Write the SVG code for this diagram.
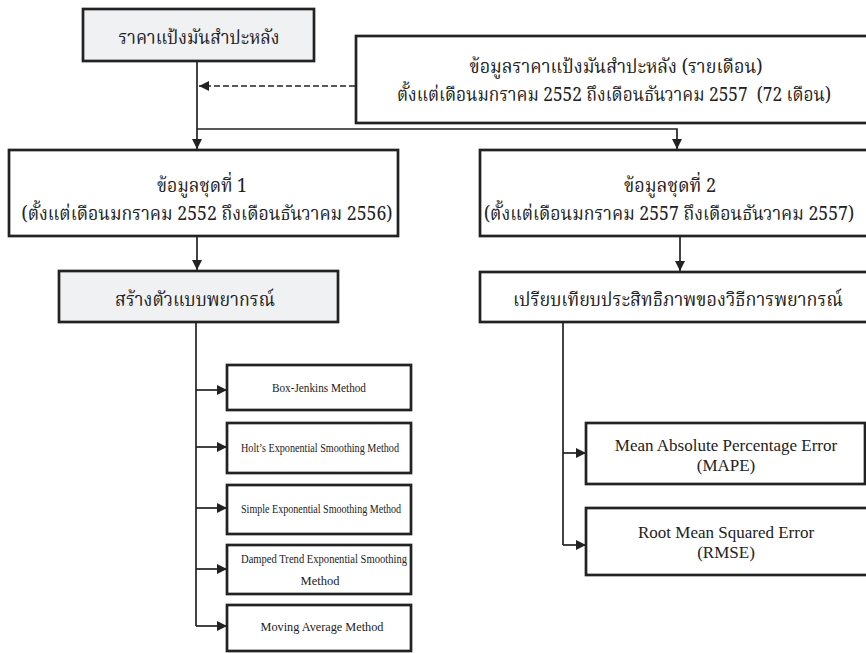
<svg xmlns="http://www.w3.org/2000/svg" width="866" height="653" viewBox="0 0 866 653">
<style>
.box{fill:#ffffff;stroke:#222222;stroke-width:2.7}
.grey{fill:#f0f1f3}
.th{font-family:"Noto Serif Thai","Noto Sans Thai","Loma","Garuda","Norasi","Liberation Serif",serif;font-size:19px;fill:#222222;text-anchor:middle}
.en{font-family:"Liberation Serif","Times New Roman",serif;font-size:12.5px;fill:#222222;text-anchor:middle}
.en2{font-family:"Liberation Serif","Times New Roman",serif;font-size:17px;fill:#222222;text-anchor:middle}
.ln{fill:none;stroke:#222222;stroke-width:1.7}
</style>
<defs>
<marker id="arr" markerUnits="userSpaceOnUse" markerWidth="11" markerHeight="10" refX="10" refY="5" orient="auto">
<path d="M0,0 L10,5 L0,10 z" fill="#222222"/>
</marker>
</defs>
<rect width="866" height="653" fill="#ffffff"/>
<g id="connectors">
<line class="ln" x1="355" y1="86" x2="199" y2="86" stroke-dasharray="6,3" marker-end="url(#arr)"/>
<path class="ln" d="M197,61 V149" marker-end="url(#arr)"/>
<path class="ln" d="M197,129 H677 V149" marker-end="url(#arr)"/>
<path class="ln" d="M197,236 V270" marker-end="url(#arr)"/>
<path class="ln" d="M680,236 V271" marker-end="url(#arr)"/>
<path class="ln" d="M196,322 V626"/>
<path class="ln" d="M196,390 H227" marker-end="url(#arr)"/>
<path class="ln" d="M196,447 H227" marker-end="url(#arr)"/>
<path class="ln" d="M196,508 H227" marker-end="url(#arr)"/>
<path class="ln" d="M196,569 H227" marker-end="url(#arr)"/>
<path class="ln" d="M196,626 H227" marker-end="url(#arr)"/>
<path class="ln" d="M563,322 V545"/>
<path class="ln" d="M563,453 H586" marker-end="url(#arr)"/>
<path class="ln" d="M563,545 H586" marker-end="url(#arr)"/>
</g>
<g id="price">
<rect class="box grey" x="83" y="9" width="231" height="52"/>
<text class="th" x="199" y="44" textLength="161" lengthAdjust="spacingAndGlyphs">ราคาแป้งมันสำปะหลัง</text>
</g>
<g id="data-source">
<rect class="box" x="356" y="36" width="514" height="87"/>
<text class="th" x="616" y="73" textLength="293" lengthAdjust="spacingAndGlyphs">ข้อมูลราคาแป้งมันสำปะหลัง (รายเดือน)</text>
<text class="th" x="614" y="101" textLength="434" lengthAdjust="spacingAndGlyphs" xml:space="preserve">ตั้งแต่เดือนมกราคม 2552 ถึงเดือนธันวาคม 2557  (72 เดือน)</text>
</g>
<g id="set1">
<rect class="box" x="9" y="150" width="389" height="86"/>
<text class="th" x="202" y="192" textLength="90" lengthAdjust="spacingAndGlyphs">ข้อมูลชุดที่ 1</text>
<text class="th" x="207" y="220" textLength="371" lengthAdjust="spacingAndGlyphs">(ตั้งแต่เดือนมกราคม 2552 ถึงเดือนธันวาคม 2556)</text>
</g>
<g id="set2">
<rect class="box" x="480" y="150" width="390" height="86"/>
<text class="th" x="670" y="192" textLength="92" lengthAdjust="spacingAndGlyphs">ข้อมูลชุดที่ 2</text>
<text class="th" x="669" y="220" textLength="370" lengthAdjust="spacingAndGlyphs">(ตั้งแต่เดือนมกราคม 2557 ถึงเดือนธันวาคม 2557)</text>
</g>
<g id="build-model">
<rect class="box grey" x="59" y="271" width="279" height="51"/>
<text class="th" x="195" y="306" textLength="160" lengthAdjust="spacingAndGlyphs">สร้างตัวแบบพยากรณ์</text>
</g>
<g id="compare">
<rect class="box" x="480" y="272" width="390" height="50"/>
<text class="th" x="678" y="306" textLength="330" lengthAdjust="spacingAndGlyphs">เปรียบเทียบประสิทธิภาพของวิธีการพยากรณ์</text>
</g>
<g id="box-jenkins">
<rect class="box" x="227" y="365" width="184" height="45"/>
<text class="en" x="319" y="392" textLength="94" lengthAdjust="spacingAndGlyphs">Box-Jenkins Method</text>
</g>
<g id="holt">
<rect class="box" x="227" y="423" width="184" height="50"/>
<text class="en" x="320" y="452" textLength="158" lengthAdjust="spacingAndGlyphs">Holt’s Exponential Smoothing Method</text>
</g>
<g id="simple">
<rect class="box" x="227" y="485" width="184" height="49"/>
<text class="en" x="321" y="513" textLength="160" lengthAdjust="spacingAndGlyphs">Simple Exponential Smoothing Method</text>
</g>
<g id="damped">
<rect class="box" x="227" y="545" width="184" height="49"/>
<text class="en" x="324" y="563" textLength="166" lengthAdjust="spacingAndGlyphs">Damped Trend Exponential Smoothing</text>
<text class="en" x="320" y="585">Method</text>
</g>
<g id="moving">
<rect class="box" x="227" y="605" width="184" height="46"/>
<text class="en" x="322" y="631" textLength="123" lengthAdjust="spacingAndGlyphs">Moving Average Method</text>
</g>
<g id="mape">
<rect class="box" x="586" y="423" width="279" height="61"/>
<text class="en2" x="726" y="451">Mean Absolute Percentage Error</text>
<text class="en2" x="726" y="471">(MAPE)</text>
</g>
<g id="rmse">
<rect class="box" x="586" y="508" width="284" height="67"/>
<text class="en2" x="726" y="538">Root Mean Squared Error</text>
<text class="en2" x="726" y="558">(RMSE)</text>
</g>
</svg>
